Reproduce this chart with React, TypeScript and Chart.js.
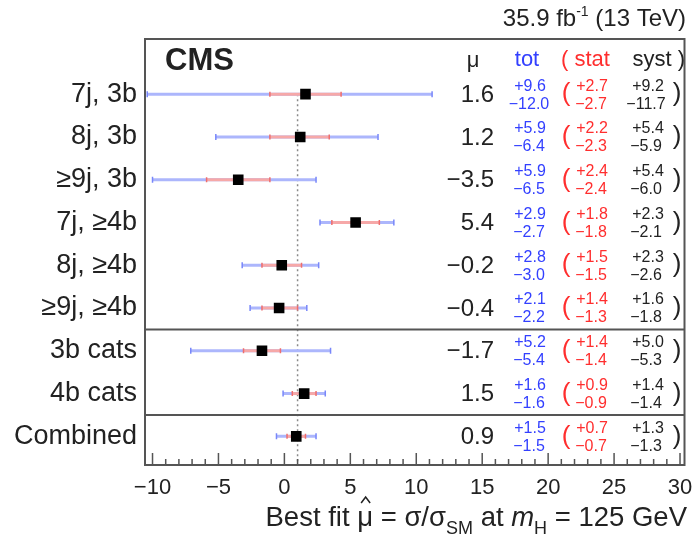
import React, { useEffect, useRef } from 'react';
import { Chart, registerables } from 'chart.js';

Chart.register(...registerables);

// ---- data ----
const categories = ['7j, 3b', '8j, 3b', '≥9j, 3b', '7j, ≥4b', '8j, ≥4b', '≥9j, ≥4b', '3b cats', '4b cats', 'Combined'];
const mu = [1.6, 1.2, -3.5, 5.4, -0.2, -0.4, -1.7, 1.5, 0.9];
const totUp = [9.6, 5.9, 5.9, 2.9, 2.8, 2.1, 5.2, 1.6, 1.5];
const totDown = [12.0, 6.4, 6.5, 2.7, 3.0, 2.2, 5.4, 1.6, 1.5];
const statUp = [2.7, 2.2, 2.4, 1.8, 1.5, 1.4, 1.4, 0.9, 0.7];
const statDown = [2.7, 2.3, 2.4, 1.8, 1.5, 1.3, 1.4, 0.9, 0.7];
const systUp = [9.2, 5.4, 5.4, 2.3, 2.3, 1.6, 5.0, 1.4, 1.3];
const systDown = [11.7, 5.9, 6.0, 2.1, 2.6, 1.8, 5.3, 1.4, 1.3];
const groupSeparators = [5.5, 7.5];
const smValue = 1;
const xTickValues = [-10, -5, 0, 5, 10, 15, 20, 25, 30];
const minorStep = 1;

const FONT = '"Liberation Sans", Arial, Helvetica, sans-serif';
const BLUE_TEXT = '#3340ff';
const RED_TEXT = '#ff2e2e';
const BLUE_BAR = 'rgb(172,182,252)';
const RED_BAR = 'rgb(246,168,168)';

const fmt = (v: number) => (v < 0 ? '\u2212' + Math.abs(v).toFixed(1) : v.toFixed(1));
const fmtUp = (v: number) => '+' + v.toFixed(1);
const fmtDown = (v: number) => '\u2212' + v.toFixed(1);

const forestPlugin = {
  id: 'forest',
  beforeDatasetsDraw(chart: any) {
    const { ctx, chartArea: a, scales } = chart;
    const x = scales.x;
    const y = scales.y;
    ctx.save();

    // SM reference line
    ctx.strokeStyle = '#8a8a8a';
    ctx.lineWidth = 1.5;
    ctx.setLineDash([2, 3]);
    ctx.beginPath();
    const xs = x.getPixelForValue(smValue);
    ctx.moveTo(xs, y.getPixelForValue(0));
    ctx.lineTo(xs, a.bottom);
    ctx.stroke();
    ctx.setLineDash([]);

    // group separators
    ctx.strokeStyle = '#555';
    ctx.lineWidth = 2;
    groupSeparators.forEach((s) => {
      const py = y.getPixelForValue(s);
      ctx.beginPath();
      ctx.moveTo(a.left, py);
      ctx.lineTo(a.right, py);
      ctx.stroke();
    });

    // uncertainty bars
    mu.forEach((m, i) => {
      const py = y.getPixelForValue(i);
      const bar = (lo: number, hi: number, color: string, capColor: string, capH: number) => {
        const x0 = x.getPixelForValue(lo);
        const x1 = x.getPixelForValue(hi);
        ctx.strokeStyle = color;
        ctx.lineWidth = 3;
        ctx.beginPath();
        ctx.moveTo(x0, py);
        ctx.lineTo(x1, py);
        ctx.stroke();
        ctx.strokeStyle = capColor;
        ctx.lineWidth = 1.5;
        ctx.beginPath();
        ctx.moveTo(x0, py - capH / 2);
        ctx.lineTo(x0, py + capH / 2);
        ctx.moveTo(x1, py - capH / 2);
        ctx.lineTo(x1, py + capH / 2);
        ctx.stroke();
      };
      bar(m - totDown[i], m + totUp[i], BLUE_BAR, 'rgb(120,135,250)', 6);
      bar(m - statDown[i], m + statUp[i], RED_BAR, 'rgb(238,110,110)', 5);
    });
    ctx.restore();
  },
  afterDraw(chart: any) {
    const { ctx, chartArea: a, scales } = chart;
    const x = scales.x;
    const y = scales.y;
    ctx.save();

    // frame
    ctx.strokeStyle = '#555';
    ctx.lineWidth = 2;
    ctx.strokeRect(a.left, a.top, a.right - a.left, a.bottom - a.top);

    // inward tick marks on the bottom axis
    ctx.lineWidth = 1.5;
    ctx.beginPath();
    for (let v = Math.ceil(x.min); v <= Math.floor(x.max); v += minorStep) {
      const px = x.getPixelForValue(v);
      const len = v % 5 === 0 ? 12 : 6;
      ctx.moveTo(px, a.bottom);
      ctx.lineTo(px, a.bottom - len);
    }
    ctx.stroke();

    ctx.textBaseline = 'middle';

    // category labels
    ctx.fillStyle = '#222';
    ctx.font = `27px ${FONT}`;
    ctx.textAlign = 'right';
    categories.forEach((c, i) => ctx.fillText(c, 137, y.getPixelForValue(i)));

    // CMS label
    ctx.textAlign = 'left';
    ctx.font = `bold 31px ${FONT}`;
    ctx.fillText('CMS', 165, 61);

    // column headers
    ctx.font = `22px ${FONT}`;
    ctx.textAlign = 'center';
    ctx.fillText('\u03bc', 473, 61);
    ctx.fillStyle = BLUE_TEXT;
    ctx.fillText('tot', 527, 60);
    ctx.fillStyle = RED_TEXT;
    ctx.textAlign = 'left';
    ctx.fillText('( stat', 561, 60);
    ctx.fillStyle = '#222';
    ctx.textAlign = 'right';
    ctx.fillText('syst )', 685, 60);

    // per-row numbers
    mu.forEach((m, i) => {
      const py = y.getPixelForValue(i);
      ctx.fillStyle = '#222';
      ctx.font = `24px ${FONT}`;
      ctx.textAlign = 'right';
      ctx.fillText(fmt(m), 494, py + 1);

      ctx.font = `16px ${FONT}`;
      ctx.textAlign = 'center';
      ctx.fillStyle = BLUE_TEXT;
      ctx.fillText(fmtUp(totUp[i]), 530, py - 8);
      ctx.fillText(fmtDown(totDown[i]), 529, py + 10);
      ctx.fillStyle = RED_TEXT;
      ctx.fillText(fmtUp(statUp[i]), 592, py - 8);
      ctx.fillText(fmtDown(statDown[i]), 591, py + 10);
      ctx.fillStyle = '#222';
      ctx.fillText(fmtUp(systUp[i]), 648, py - 8);
      ctx.fillText(fmtDown(systDown[i]), 646, py + 10);

      ctx.font = `26px ${FONT}`;
      ctx.fillStyle = RED_TEXT;
      ctx.fillText('(', 566, py);
      ctx.fillStyle = '#222';
      ctx.fillText(')', 677, py);
    });

    // luminosity / energy
    {
      const base = 26;
      const right = 686;
      const p1 = '35.9 fb';
      const sup = '-1';
      const p2 = ' (13 TeV)';
      ctx.textBaseline = 'alphabetic';
      ctx.textAlign = 'left';
      ctx.font = `24px ${FONT}`;
      const w1 = ctx.measureText(p1).width;
      const w3 = ctx.measureText(p2).width;
      ctx.font = `14px ${FONT}`;
      const w2 = ctx.measureText(sup).width;
      let cx = right - w1 - w2 - w3;
      ctx.fillStyle = '#222';
      ctx.font = `24px ${FONT}`;
      ctx.fillText(p1, cx, base);
      cx += w1;
      ctx.font = `14px ${FONT}`;
      ctx.fillText(sup, cx, base - 10);
      cx += w2;
      ctx.font = `24px ${FONT}`;
      ctx.fillText(p2, cx, base);
    }

    // axis title: Best fit mu-hat = sigma/sigma_SM at m_H = 125 GeV
    {
      const base = 526;
      const right = 687;
      const big = `27.5px ${FONT}`;
      const ital = `italic 27.5px ${FONT}`;
      const small = `18px ${FONT}`;
      const segs: { t: string; f: string; dy: number; hat?: boolean }[] = [
        { t: 'Best fit ', f: big, dy: 0 },
        { t: '\u03bc', f: big, dy: 0, hat: true },
        { t: ' = \u03c3/\u03c3', f: big, dy: 0 },
        { t: 'SM', f: small, dy: 8 },
        { t: ' at ', f: big, dy: 0 },
        { t: 'm', f: ital, dy: 0 },
        { t: 'H', f: small, dy: 8 },
        { t: ' = 125 GeV', f: big, dy: 0 },
      ];
      ctx.textBaseline = 'alphabetic';
      ctx.textAlign = 'left';
      const widths = segs.map((s) => {
        ctx.font = s.f;
        return ctx.measureText(s.t).width;
      });
      let cx = right - widths.reduce((p, c) => p + c, 0);
      ctx.fillStyle = '#222';
      segs.forEach((s, k) => {
        ctx.font = s.f;
        ctx.fillText(s.t, cx, base + s.dy);
        if (s.hat) {
          const hx = cx + widths[k] / 2 + 0.5;
          ctx.strokeStyle = '#222';
          ctx.lineWidth = 1.5;
          ctx.beginPath();
          ctx.moveTo(hx - 4.5, base - 23);
          ctx.lineTo(hx, base - 29);
          ctx.lineTo(hx + 4.5, base - 23);
          ctx.stroke();
        }
        cx += widths[k];
      });
    }

    ctx.restore();
  },
};

export default function App() {
  const ref = useRef<HTMLCanvasElement>(null);

  useEffect(() => {
    const prevMargin = document.body.style.margin;
    document.body.style.margin = '0';
    const chart = new Chart(ref.current as HTMLCanvasElement, {
      type: 'scatter',
      data: {
        datasets: [
          {
            data: mu.map((m, i) => ({ x: m, y: i })),
            pointStyle: 'rect',
            pointRadius: 7.5,
            pointHoverRadius: 7.5,
            backgroundColor: '#000',
            borderColor: '#000',
            borderWidth: 0,
          },
        ],
      },
      options: {
        animation: false,
        responsive: false,
        maintainAspectRatio: false,
        events: [],
        layout: { padding: { left: 145, right: 7, top: 39, bottom: 0 } },
        plugins: { legend: { display: false }, tooltip: { enabled: false } },
        scales: {
          x: {
            type: 'linear',
            min: -10.57,
            max: 30.34,
            afterBuildTicks: (scale: any) => {
              scale.ticks = xTickValues.map((v) => ({ value: v }));
            },
            afterFit: (scale: any) => {
              scale.height = 69;
              scale.paddingLeft = 0;
              scale.paddingRight = 0;
            },
            grid: { display: false, drawTicks: false },
            border: { display: false },
            ticks: {
              autoSkip: false,
              maxRotation: 0,
              padding: 10,
              color: '#222',
              font: { family: FONT, size: 22 },
              callback: (v: any) => (Number(v) < 0 ? '\u2212' + Math.abs(Number(v)) : String(v)),
            },
          },
          y: {
            type: 'linear',
            min: -1.29,
            max: 8.67,
            reverse: true,
            display: false,
          },
        },
      },
      plugins: [forestPlugin],
    } as any);
    return () => {
      chart.destroy();
      document.body.style.margin = prevMargin;
    };
  }, []);

  return (
    <div style={{ width: 692, height: 534 }}>
      <canvas ref={ref} width={692} height={534} style={{ display: 'block' }} />
    </div>
  );
}
